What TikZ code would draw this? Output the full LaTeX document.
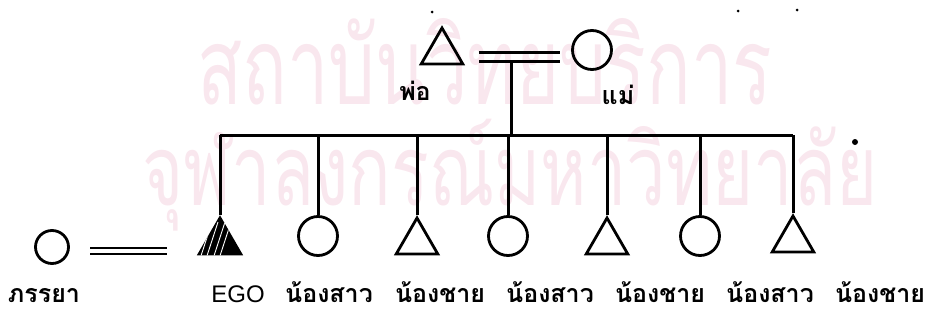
\documentclass[tikz,border=0pt]{standalone}
\usepackage{fontspec}
\usepackage{graphicx}
\usetikzlibrary{shapes.geometric}
\newfontfamily\thai[Script=Thai]{Loma}
\newfontfamily\egofont{Liberation Sans}
\definecolor{wmark}{RGB}{249,231,238}
\tikzset{
  x=1pt, y=-1pt,
  line/.style={line width=3pt},
  fem/.style={circle, draw, line width=2.8pt, minimum size=39pt, inner sep=0pt},
  male/.style={regular polygon, regular polygon sides=3, draw, line width=2.8pt, minimum size=48pt, inner sep=0pt},
  lab/.style={font=\thai\bfseries\fontsize{25}{27}\selectfont, inner sep=0pt, anchor=base},
  wm/.style={text=wmark, inner sep=0pt}
}
\begin{document}
\begin{tikzpicture}
\useasboundingbox (0,0) rectangle (930,322);
% watermark
\node[wm] (wm1) at (485,62) {\scalebox{1}[1.45]{\resizebox{575pt}{!}{\thai สถาบันวิทยบริการ}}};
\node[wm] (wm2) at (510,175) {\scalebox{1}[1.4]{\resizebox{735pt}{!}{\thai จุฬาลงกรณ์มหาวิทยาลัย}}};
% parents
\node[male] (fa) at (442,52) {};
\node[fem] (mo) at (592,50) {};
\coordinate (pm1) at (479,52);
\coordinate (pm2) at (560,52);
\coordinate (pm3) at (479,61);
\coordinate (pm4) at (560,61);
\coordinate (stem) at (511,61);
\draw[line] (pm1) -- (pm2);
\draw[line] (pm3) -- (pm4);
\node[lab] (lfa) at (415,100) {พ่อ};
\node[lab] (lmo) at (618,104) {แม่};
% siblings
\coordinate (sib) at (0,135);
\node[male, fill=black] (ego) at (220,242) {};
\node[fem] (c1) at (318,236) {};
\node[male] (t2) at (417,242) {};
\node[fem] (c3) at (508,236) {};
\node[male] (t4) at (607,242) {};
\node[fem] (c5) at (700,236) {};
\node[male] (t6) at (793,240) {};
\begin{scope}
\clip (ego.corner 1) -- (ego.corner 2) -- (ego.corner 3) -- cycle;
\foreach \d in {-8,-2,5,11} \draw[white, line width=0.9pt] (220+\d,222) -- (207+\d,262);
\end{scope}
\draw[line] (ego.north |- sib) -- (t6.north |- sib);
\foreach \n in {ego,c1,t2,c3,t4,c5,t6} \draw[line] (\n.north) -- (\n.north |- sib);
\draw[line] (stem) -- (stem |- sib);
% spouse
\node[fem, minimum size=33pt] (wife) at (52,247) {};
\coordinate (w1) at (90,248);
\coordinate (w2) at (167,248);
\coordinate (w3) at (90,254);
\coordinate (w4) at (167,254);
\draw[line width=2.6pt] (w1) -- (w2);
\draw[line width=2.6pt] (w3) -- (w4);
% labels
\node[lab] (lw) at (44,302) {ภรรยา};
\node[anchor=base, inner sep=0pt, font=\egofont\fontsize{24}{26}\selectfont] (lego) at (238,302) {EGO};
\node[lab] (l1) at (329,302) {น้องสาว};
\node[lab] (l2) at (440,302) {น้องชาย};
\node[lab] (l3) at (550,302) {น้องสาว};
\node[lab] (l4) at (660,302) {น้องชาย};
\node[lab] (l5) at (770,302) {น้องสาว};
\node[lab] (l6) at (880,302) {น้องชาย};
% specks
\fill (855,142) circle (3pt);
\fill (738,11) circle (1.5pt);
\fill (797,10) circle (1.5pt);
\fill (432,12) circle (1.5pt);
\end{tikzpicture}
\end{document}
